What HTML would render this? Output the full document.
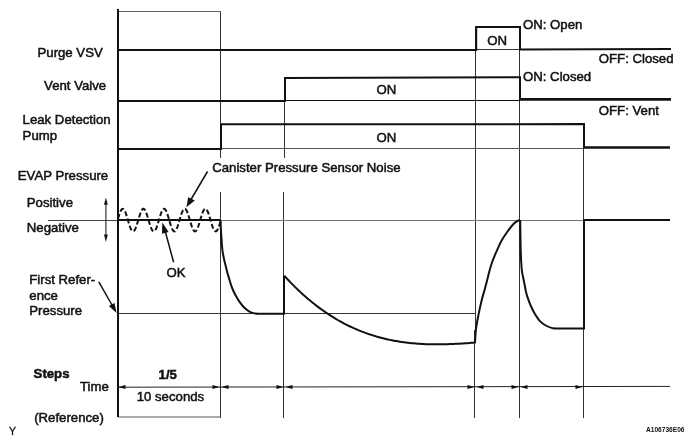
<!DOCTYPE html>
<html><head><meta charset="utf-8"><style>
html,body{margin:0;padding:0;background:#fff;}
svg{display:block;}
text{font-family:"Liberation Sans", sans-serif;fill:#111;stroke:#111;stroke-width:0.5px;}
.t{will-change:transform;}
</style></head><body>
<svg width="694" height="445" viewBox="0 0 694 445">
<g fill="none" stroke-linecap="butt">
<g stroke="#333" stroke-width="1">
<line x1="220.5" y1="11" x2="220.5" y2="158"/>
<line x1="220.5" y1="192" x2="220.5" y2="418"/>
<line x1="284.5" y1="78" x2="284.5" y2="158"/>
<line x1="283.5" y1="192" x2="283.5" y2="418"/>
<line x1="475.5" y1="27" x2="475.5" y2="330"/><line x1="474.5" y1="330" x2="474.5" y2="418"/>
<line x1="519.5" y1="27" x2="519.5" y2="418"/>
<line x1="583.5" y1="124" x2="583.5" y2="418"/>
</g>
<g stroke-width="1">
<line x1="118" y1="11.5" x2="221" y2="11.5" stroke="#666"/>
<line x1="118" y1="417" x2="221" y2="417" stroke="#555"/>
<line x1="475.5" y1="49.5" x2="519.5" y2="49.5" stroke="#333"/>
<line x1="284.5" y1="100.5" x2="520" y2="100.5" stroke="#111" stroke-width="1.2"/>
<line x1="221" y1="148.5" x2="584" y2="148.5" stroke="#555"/>
<line x1="48" y1="220.5" x2="118" y2="220.5" stroke="#444"/>
<line x1="220.5" y1="220.5" x2="584" y2="220.5" stroke="#777"/>
<line x1="117" y1="313.5" x2="475.5" y2="313.5" stroke="#333"/>
<line x1="118" y1="387.2" x2="670" y2="386.4" stroke="#222"/>
</g>
<g stroke="#111" stroke-width="2">
<line x1="118" y1="9" x2="118" y2="417"/>
<polyline points="118,50 476.2,50 476.2,27 520,27 520,49.4 671,49"/>
<polyline points="118,101 285,101 285,78 520,77.2 520,99.4"/>
<line x1="519" y1="99.4" x2="671" y2="99.4" stroke-width="2.6"/>
<polyline points="118,149 221,149 221,124.3 584,124.1 584,147.5"/>
<line x1="583" y1="147.5" x2="670" y2="147.5" stroke-width="2.5"/>
<line x1="118" y1="220" x2="220.5" y2="220"/>
<path d="M220.60,220.00 C220.63,221.33 220.67,225.13 220.80,228.00 C220.93,230.87 221.13,233.53 221.40,237.20 C221.67,240.87 221.97,246.37 222.40,250.00 C222.83,253.63 223.42,256.22 224.00,259.00 C224.58,261.78 225.30,264.27 225.90,266.70 C226.50,269.13 227.03,271.52 227.60,273.60 C228.17,275.68 228.73,277.32 229.30,279.20 C229.87,281.08 230.35,283.02 231.00,284.90 C231.65,286.78 232.37,288.63 233.20,290.50 C234.03,292.37 234.97,294.23 236.00,296.10 C237.03,297.97 238.08,299.83 239.40,301.70 C240.72,303.57 242.30,305.70 243.90,307.30 C245.50,308.90 247.22,310.28 249.00,311.30 C250.78,312.32 252.77,312.98 254.60,313.40 C256.43,313.82 255.10,313.73 260.00,313.80 C264.90,313.87 280.00,313.80 284.00,313.80 L284,275.5"/>
<path d="M284.50,276.01 L286.49,278.18 L288.48,280.30 L290.47,282.37 L292.46,284.41 L294.45,286.40 L296.44,288.35 L298.43,290.25 L300.42,292.12 L302.41,293.95 L304.40,295.73 L306.39,297.47 L308.38,299.18 L310.36,300.84 L312.35,302.47 L314.34,304.05 L316.33,305.60 L318.32,307.11 L320.31,308.59 L322.30,310.02 L324.29,311.42 L326.28,312.79 L328.27,314.12 L330.26,315.41 L332.25,316.67 L334.24,317.89 L336.23,319.08 L338.22,320.24 L340.21,321.36 L342.20,322.45 L344.19,323.51 L346.18,324.54 L348.17,325.53 L350.16,326.50 L352.15,327.43 L354.14,328.33 L356.12,329.21 L358.11,330.05 L360.10,330.86 L362.09,331.65 L364.08,332.41 L366.07,333.13 L368.06,333.84 L370.05,334.51 L372.04,335.16 L374.03,335.78 L376.02,336.38 L378.01,336.95 L380.00,337.50 L381.99,338.02 L383.98,338.52 L385.97,338.99 L387.96,339.44 L389.95,339.87 L391.94,340.27 L393.93,340.66 L395.92,341.02 L397.91,341.36 L399.90,341.68 L401.89,341.98 L403.88,342.26 L405.86,342.52 L407.85,342.76 L409.84,342.98 L411.83,343.18 L413.82,343.37 L415.81,343.54 L417.80,343.69 L419.79,343.82 L421.78,343.94 L423.77,344.05 L425.76,344.13 L427.75,344.20 L429.74,344.26 L431.73,344.30 L433.72,344.33 L435.71,344.35 L437.70,344.35 L439.69,344.34 L441.68,344.32 L443.67,344.29 L445.66,344.24 L447.65,344.19 L449.64,344.12 L451.62,344.05 L453.61,343.96 L455.60,343.87 L457.59,343.76 L459.58,343.65 L461.57,343.53 L463.56,343.40 L465.55,343.27 L467.54,343.13 L469.53,342.98 L471.52,342.83 L473.51,342.67 L475.50,342.50"/>
<path d="M475.00,343.00 C475.03,342.20 475.03,340.57 475.20,338.20 C475.37,335.83 475.60,331.95 476.00,328.80 C476.40,325.65 477.02,322.45 477.60,319.30 C478.18,316.15 478.77,313.30 479.50,309.90 C480.23,306.50 481.13,302.32 482.00,298.90 C482.87,295.48 483.83,292.55 484.70,289.40 C485.57,286.25 486.43,282.98 487.20,280.00 C487.97,277.02 488.50,274.42 489.30,271.50 C490.10,268.58 491.02,265.35 492.00,262.50 C492.98,259.65 494.07,257.10 495.20,254.40 C496.33,251.70 497.68,248.70 498.80,246.30 C499.92,243.90 500.53,242.33 501.90,240.00 C503.27,237.67 505.37,234.63 507.00,232.30 C508.63,229.97 510.27,227.70 511.70,226.00 C513.13,224.30 514.30,223.12 515.60,222.10 C516.90,221.08 518.85,220.27 519.50,219.90"/>
<path d="M520.20,220.00 C520.23,222.50 520.32,230.00 520.40,235.00 C520.48,240.00 520.57,245.50 520.70,250.00 C520.83,254.50 521.00,258.50 521.20,262.00 C521.40,265.50 521.58,268.45 521.90,271.00 C522.22,273.55 522.65,275.03 523.10,277.30 C523.55,279.57 524.12,282.17 524.60,284.60 C525.08,287.03 525.40,289.47 526.00,291.90 C526.60,294.33 527.35,296.77 528.20,299.20 C529.05,301.63 530.00,304.07 531.10,306.50 C532.20,308.93 533.33,311.37 534.80,313.80 C536.27,316.23 538.07,319.15 539.90,321.10 C541.73,323.05 543.73,324.33 545.80,325.50 C547.87,326.67 550.27,327.60 552.30,328.10 C554.33,328.60 552.72,328.43 558.00,328.50 C563.28,328.57 579.67,328.50 584.00,328.50 L584,220 L670,220"/>
<polyline points="118.00,218.73 118.51,217.00 119.03,215.35 119.54,213.82 120.05,212.44 120.56,211.24 121.08,210.26 121.59,209.51 122.10,209.03 122.61,208.81 123.12,208.87 123.64,209.20 124.15,209.79 124.66,210.64 125.17,211.71 125.69,212.99 126.20,214.44 126.71,216.03 127.22,217.71 127.74,219.46 128.25,221.22 128.76,222.95 129.28,224.61 129.79,226.17 130.30,227.57 130.81,228.80 131.32,229.81 131.84,230.59 132.35,231.12 132.86,231.37 133.38,231.36 133.89,231.07 134.40,230.51 134.91,229.70 135.43,228.66 135.94,227.41 136.45,225.98 136.96,224.41 137.47,222.74 137.99,221.00 138.50,219.24 139.01,217.50 139.53,215.83 140.04,214.25 140.55,212.82 141.06,211.57 141.57,210.52 142.09,209.71 142.60,209.14 143.11,208.85 143.62,208.82 144.14,209.07 144.65,209.59 145.16,210.36 145.68,211.37 146.19,212.59 146.70,214.00 147.21,215.55 147.72,217.21 148.24,218.94 148.75,220.70 149.26,222.45 149.78,224.13 150.29,225.73 150.80,227.18 151.31,228.46 151.82,229.54 152.34,230.39 152.85,230.99 153.36,231.33 153.88,231.39 154.39,231.18 154.90,230.70 155.41,229.96 155.93,228.99 156.44,227.80 156.95,226.42 157.46,224.89 157.97,223.24 158.49,221.51 159.00,219.76 159.51,218.01 160.03,216.31 160.54,214.70 161.05,213.22 161.56,211.91 162.07,210.80 162.59,209.92 163.10,209.28 163.61,208.91 164.12,208.80 164.64,208.97 165.15,209.41 165.66,210.11 166.18,211.06 166.69,212.22 167.20,213.57 167.71,215.08 168.22,216.71 168.74,218.43 169.25,220.19 169.76,221.94 170.28,223.65 170.79,225.27 171.30,226.77 171.81,228.11 172.32,229.25 172.84,230.17 173.35,230.84 173.86,231.26 174.38,231.40 174.89,231.27 175.40,230.87 175.91,230.21 176.43,229.30 176.94,228.17 177.45,226.84 177.96,225.35 178.47,223.73 178.99,222.02 179.50,220.27 180.01,218.52 180.53,216.80 181.04,215.16 181.55,213.64 182.06,212.28 182.57,211.11 183.09,210.15 183.60,209.44 184.11,208.99 184.62,208.80 185.14,208.89 185.65,209.26 186.16,209.88 186.68,210.76 187.19,211.86 187.70,213.16 188.21,214.62 188.72,216.23 189.24,217.92 189.75,219.67 190.26,221.43 190.78,223.16 191.29,224.81 191.80,226.35 192.31,227.73 192.82,228.93 193.34,229.92 193.85,230.67 194.36,231.16 194.88,231.39 195.39,231.34 195.90,231.01 196.41,230.43 196.93,229.59 197.44,228.52 197.95,227.25 198.46,225.80 198.97,224.22 199.49,222.53 200.00,220.79 200.51,219.03 201.03,217.29 201.54,215.63 202.05,214.07 202.56,212.66 203.07,211.43 203.59,210.41 204.10,209.62 204.61,209.09 205.12,208.83 205.64,208.84 206.15,209.12 206.66,209.67 207.18,210.48 207.69,211.51 208.20,212.76 208.71,214.18 209.22,215.75 209.74,217.42 210.25,219.16 210.76,220.92 211.28,222.66 211.79,224.33 212.30,225.91 212.81,227.35 213.32,228.60 213.84,229.66 214.35,230.48 214.86,231.05 215.38,231.35 215.89,231.38 216.40,231.14 216.91,230.62 217.43,229.86 217.94,228.85 218.45,227.64 218.96,226.24 219.47,224.69 219.99,223.03 220.50,221.30" stroke-dasharray="5,2.5"/>
</g>
<g stroke="#111" stroke-width="1.5">
<line x1="207.5" y1="171.5" x2="191" y2="199.5"/>
<line x1="173.6" y1="262.2" x2="165.4" y2="232"/>
<line x1="98.8" y1="281.8" x2="112" y2="305"/>
</g>
<line x1="105.9" y1="202" x2="105.9" y2="237" stroke="#222" stroke-width="1.1"/>
<g fill="#111" stroke="none">
<polygon points="186.4,207.2 188.2,197.2 194.8,200.6"/>
<polygon points="162.3,222.4 162,233.8 168.6,232"/>
<polygon points="116.6,313 108.9,305.9 114.4,303.1"/>
<polygon points="105.9,197.6 104,204.8 107.8,204.8"/>
<polygon points="105.9,241.9 104,234.6 107.8,234.6"/>
</g>
<g fill="#111" stroke="none">
<polygon points="118.5,387 125.5,385 125.5,389"/>
<polygon points="219.5,387 212.5,385 212.5,389"/>
<polygon points="221.5,387 228.5,385 228.5,389"/>
<polygon points="283.5,387 276.5,385 276.5,389"/>
<polygon points="285.5,387 292.5,385 292.5,389"/>
<polygon points="474.5,387 467.5,385 467.5,389"/>
<polygon points="476.5,387 483.5,385 483.5,389"/>
<polygon points="518.5,387 511.5,385 511.5,389"/>
<polygon points="520.5,387 527.5,385 527.5,389"/>
<polygon points="582.5,387 575.5,385 575.5,389"/>
</g>
</g>
<g font-size="13.2" class="t">
<text x="37.50" y="56.70">Purge VSV</text>
<text x="44.10" y="90.20">Vent Valve</text>
<text x="22.60" y="123.60">Leak Detection</text>
<text x="22.60" y="139.60">Pump</text>
<text x="17.80" y="179.70">EVAP Pressure</text>
<text x="26.80" y="207.40">Positive</text>
<text x="26.80" y="232.40">Negative</text>
<text x="29.30" y="284.00">First Refer-</text>
<text x="29.30" y="300.00">ence</text>
<text x="29.30" y="315.40">Pressure</text>
<text x="212.20" y="171.50">Canister Pressure Sensor Noise</text>
<text x="166.60" y="276.90">OK</text>
<text x="487.20" y="44.70">ON</text>
<text x="523.00" y="28.70">ON: Open</text>
<text x="598.80" y="62.50">OFF: Closed</text>
<text x="523.00" y="81.40">ON: Closed</text>
<text x="598.80" y="114.50">OFF: Vent</text>
<text x="376.50" y="93.50">ON</text>
<text x="376.50" y="141.70">ON</text>
<text x="80.00" y="390.50">Time</text>
<text x="136.70" y="400.90">10 seconds</text>
<text x="34.20" y="422.30">(Reference)</text>
<text x="33.60" y="377.60" font-weight="bold">Steps</text>
<text x="158.60" y="379.00" font-weight="bold">1/5</text>
</g>
<text x="8.9" y="435.2" font-size="10.5" style="stroke-width:0.3px">Y</text>
<text x="646" y="432" font-size="7" font-weight="bold" style="stroke:none" textLength="38.5" lengthAdjust="spacingAndGlyphs">A106736E06</text>
</svg>
</body></html>
